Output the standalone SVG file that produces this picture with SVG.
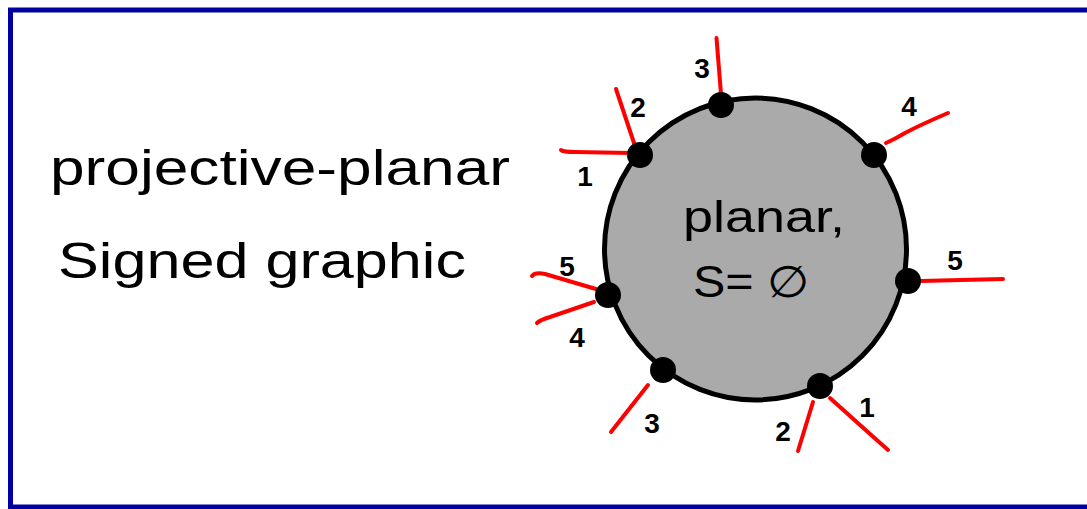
<svg xmlns="http://www.w3.org/2000/svg" width="1087" height="509" viewBox="0 0 1087 509">
<style>
.big{font-family:"Liberation Sans",Arial,sans-serif;font-size:50px;fill:#000}
.mid{font-family:"Liberation Sans",Arial,sans-serif;font-size:44px;fill:#000}
.num{font-family:"Liberation Sans",Arial,sans-serif;font-size:28px;font-weight:bold;fill:#000;text-anchor:middle}
.edge{fill:none;stroke:#ff0000;stroke-width:4;stroke-linecap:round;stroke-linejoin:round}
.dot{fill:#000}
</style>
<rect width="1087" height="509" fill="#fff"/>
<rect x="10.5" y="10" width="1100" height="497" fill="none" stroke="#0000a0" stroke-width="5"/>
<g id="title">
<text class="big" x="50" y="185" textLength="460" lengthAdjust="spacingAndGlyphs">projective-planar</text>
<text class="big" x="58" y="278" textLength="408" lengthAdjust="spacingAndGlyphs">Signed graphic</text>
</g>
<g id="disc">
<circle cx="755.5" cy="249" r="151" fill="#aaaaaa" stroke="#000" stroke-width="5"/>
<text class="mid" x="683" y="232" textLength="162" lengthAdjust="spacingAndGlyphs">planar,</text>
<text class="mid" x="693" y="297" textLength="116" lengthAdjust="spacingAndGlyphs">S= ∅</text>
</g>
<g id="connectors">
<path class="edge" d="M561,150 Q563,152 575,152 L632,153"/>
<path class="edge" d="M616,89 L635,146"/>
<path class="edge" d="M716.5,38 L721,94"/>
<path class="edge" d="M948,113 Q920,125 905,133 Q895,139 886,143"/>
<path class="edge" d="M920,281 L1003,279"/>
<path class="edge" d="M532,276 Q535,272 545,274 L596,289"/>
<path class="edge" d="M537,323 Q540,320 550,317 L594,302"/>
<path class="edge" d="M648,385 L611,432"/>
<path class="edge" d="M813,402 L798,451"/>
<path class="edge" d="M830,398 L860,425 L888,450"/>
</g>
<g id="dots">
<circle class="dot" cx="640" cy="155" r="13"/>
<circle class="dot" cx="721" cy="105" r="13"/>
<circle class="dot" cx="874" cy="155" r="13"/>
<circle class="dot" cx="908" cy="281" r="13"/>
<circle class="dot" cx="608" cy="295" r="13"/>
<circle class="dot" cx="663" cy="370" r="13"/>
<circle class="dot" cx="820" cy="386" r="13"/>
</g>
<g id="labels">
<text class="num" x="585" y="186">1</text>
<text class="num" x="638" y="117">2</text>
<text class="num" x="702" y="78">3</text>
<text class="num" x="909" y="116">4</text>
<text class="num" x="955" y="270">5</text>
<text class="num" x="567" y="276">5</text>
<text class="num" x="577" y="347">4</text>
<text class="num" x="652" y="433">3</text>
<text class="num" x="783" y="441">2</text>
<text class="num" x="867" y="417">1</text>
</g>
</svg>
